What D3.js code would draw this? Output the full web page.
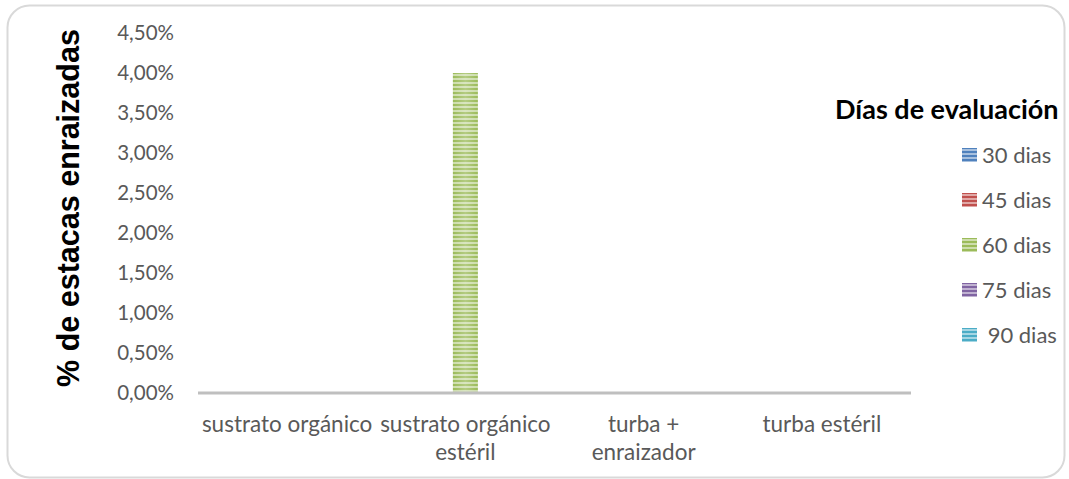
<!DOCTYPE html>
<html>
<head>
<meta charset="utf-8">
<script src="https://cdn.jsdelivr.net/npm/d3@7/dist/d3.min.js"></script>
<style>
  body { margin: 0; background: #fff; }
  text { font-family: Lato, "Liberation Sans", sans-serif; }
</style>
</head>
<body>
<svg id="chart" width="1069" height="479"></svg>
<script>
// categories (line breaks as in the original axis labels)
const categories = ["sustrato orgánico", "sustrato orgánico\nestéril", "turba +\nenraizador", "turba estéril"];
const seriesNames = ["30 dias", "45 dias", "60 dias", "75 dias", " 90 dias"];
const seriesColors = ["#4f81bd", "#c0504d", "#9bbb59", "#8064a2", "#4bacc6"];
const dias30 = [0, 0, 0, 0];
const dias45 = [0, 0, 0, 0];
const dias60 = [0, 0.04, 0, 0];
const dias75 = [0, 0, 0, 0];
const dias90 = [0, 0, 0, 0];
const yTicks = [0, 0.005, 0.01, 0.015, 0.02, 0.025, 0.03, 0.035, 0.04, 0.045];
const yTitle = "% de estacas enraizadas";
const legendTitle = "Días de evaluación";

const seriesValues = [dias30, dias45, dias60, dias75, dias90];

const svg = d3.select("#chart");
const plot = {left: 198, right: 911, top: 33, bottom: 393};

// outer frame
svg.append("rect")
  .attr("x", 7.5).attr("y", 5.5)
  .attr("width", 1057).attr("height", 472)
  .attr("rx", 22)
  .attr("fill", "#fff")
  .attr("stroke", "#d9d9d9")
  .attr("stroke-width", 2);

// striped fills like the excel pattern
const defs = svg.append("defs");
seriesColors.forEach((c, i) => {
  const p = defs.append("pattern")
    .attr("id", "stripe" + i)
    .attr("patternUnits", "userSpaceOnUse")
    .attr("width", 8).attr("height", 4);
  p.append("rect").attr("width", 8).attr("height", 4).attr("fill", d3.interpolateRgb(c, "#fff")(0.5));
  p.append("rect").attr("width", 8).attr("height", 2).attr("fill", c);
});
const shine = defs.append("linearGradient").attr("id", "shine");
shine.append("stop").attr("offset", "0%").attr("stop-color", "#fff").attr("stop-opacity", 0);
shine.append("stop").attr("offset", "50%").attr("stop-color", "#fff").attr("stop-opacity", 0.25);
shine.append("stop").attr("offset", "100%").attr("stop-color", "#fff").attr("stop-opacity", 0);

const x = d3.scaleBand().domain(categories).range([plot.left, plot.right]);
const xInner = d3.scaleBand().domain(seriesNames).range([0, x.bandwidth()]).paddingOuter(1.065);
const y = d3.scaleLinear().domain([0, 0.045]).range([plot.bottom, plot.top]);

// y axis (labels only)
const yAxis = d3.axisLeft(y)
  .tickValues(yTicks)
  .tickSize(0)
  .tickPadding(24)
  .tickFormat(d => d3.format(".2f")(d * 100).replace(".", ",") + "%");
const gy = svg.append("g").attr("transform", "translate(" + plot.left + ",0)").call(yAxis);
gy.select(".domain").remove();
gy.selectAll("text")
  .attr("fill", "#595959")
  .style("font-size", "20.5px")
  .style("font-family", "Lato, sans-serif");

// bars
const groups = svg.append("g").selectAll("g")
  .data(categories)
  .join("g")
  .attr("transform", d => "translate(" + x(d) + ",0)");

groups.selectAll("rect.bar")
  .data((cat, ci) => seriesNames.map((s, si) => ({s: s, si: si, v: seriesValues[si][ci]})))
  .join("rect")
  .attr("class", "bar")
  .attr("x", d => xInner(d.s))
  .attr("width", xInner.bandwidth())
  .attr("y", d => y(d.v))
  .attr("height", d => y(0) - y(d.v))
  .attr("fill", d => "url(#stripe" + d.si + ")");

groups.selectAll("rect.shine")
  .data((cat, ci) => seriesNames.map((s, si) => ({s: s, si: si, v: seriesValues[si][ci]})))
  .join("rect")
  .attr("class", "shine")
  .attr("x", d => xInner(d.s))
  .attr("width", xInner.bandwidth())
  .attr("y", d => y(d.v))
  .attr("height", d => y(0) - y(d.v))
  .attr("fill", "url(#shine)");

// x axis line
svg.append("line")
  .attr("x1", plot.left).attr("x2", plot.right)
  .attr("y1", plot.bottom).attr("y2", plot.bottom)
  .attr("stroke", "#bfbfbf")
  .attr("stroke-width", 3);

// category labels
const xl = svg.append("g").selectAll("text")
  .data(categories)
  .join("text")
  .attr("text-anchor", "middle")
  .attr("fill", "#595959")
  .style("font-size", "22.5px");
xl.each(function(d) {
  const t = d3.select(this);
  d.split("\n").forEach((line, i) => {
    t.append("tspan")
      .attr("x", x(d) + x.bandwidth() / 2)
      .attr("y", 432 + i * 28)
      .text(line);
  });
});

// y title
svg.append("text")
  .attr("transform", "translate(79,208) rotate(-90)")
  .attr("text-anchor", "middle")
  .style("font-family", "'Liberation Sans', Arial, sans-serif")
  .style("font-weight", "bold")
  .style("font-size", "30.5px")
  .attr("fill", "#000")
  .text(yTitle);

// legend
svg.append("text")
  .attr("x", 835).attr("y", 119)
  .style("font-weight", "bold")
  .style("font-size", "27px")
  .attr("fill", "#000")
  .text(legendTitle);

const leg = svg.append("g").selectAll("g")
  .data(seriesNames)
  .join("g")
  .attr("transform", (d, i) => "translate(962," + (155 + i * 45) + ")");
leg.append("rect")
  .attr("x", 0).attr("y", -7)
  .attr("width", 15).attr("height", 14)
  .attr("fill", (d, i) => "url(#stripe" + i + ")");
leg.append("text")
  .attr("x", 20).attr("y", 0)
  .attr("dy", "0.35em")
  .attr("fill", "#595959")
  .style("font-size", "22px")
  .style("white-space", "pre")
  .text(d => d);
</script>
</body>
</html>
